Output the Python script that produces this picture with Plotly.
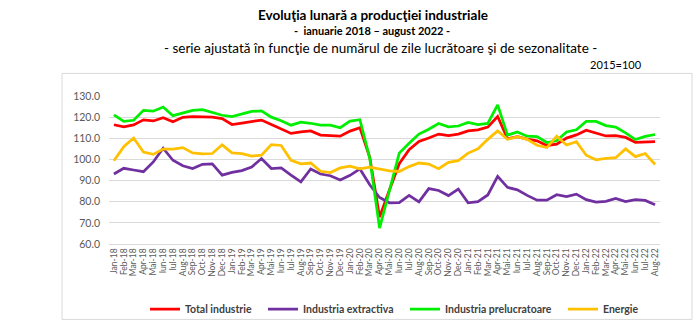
import plotly.graph_objects as go

months = ["Jan-18","Feb-18","Mar-18","Apr-18","Mai-18","Iun-18","Iul-18","Aug-18","Sep-18","Oct-18","Nov-18","Dec-18",
          "Jan-19","Feb-19","Mar-19","Apr-19","Mai-19","Iun-19","Iul-19","Aug-19","Sep-19","Oct-19","Nov-19","Dec-19",
          "Jan-20","Feb-20","Mar-20","Apr-20","Mai-20","Iun-20","Iul-20","Aug-20","Sep-20","Oct-20","Nov-20","Dec-20",
          "Jan-21","Feb-21","Mar-21","Apr-21","Mai-21","Iun-21","Iul-21","Aug-21","Sep-21","Oct-21","Nov-21","Dec-21",
          "Jan-22","Feb-22","Mar-22","Apr-22","Mai-22","Iun-22","Iul-22","Aug-22"]

total_industrie = [116.4,115.4,116.3,118.7,118.2,119.7,117.8,119.9,120.3,120.2,120.0,119.3,
                   116.5,117.2,117.8,118.6,116.5,114.5,112.3,113.0,113.5,111.5,111.4,111.0,
                   113.4,115.0,101.0,72.8,85.5,98.0,104.6,108.5,110.1,112.0,111.3,112.0,
                   113.5,114.0,115.3,120.3,109.8,110.8,109.6,108.8,106.6,107.2,110.1,111.6,
                   113.8,112.3,111.1,111.2,110.4,108.1,108.4,108.4]

industria_extractiva = [93.1,95.8,95.0,94.2,98.8,105.3,99.6,97.0,95.7,97.7,97.9,92.6,
                        93.9,94.7,96.4,100.4,95.7,96.0,92.6,89.4,95.5,93.1,92.3,90.3,
                        92.5,95.5,88.0,82.0,79.5,79.6,83.0,79.9,86.2,85.3,82.9,86.0,
                        79.5,80.0,83.2,92.0,86.8,85.6,83.0,80.7,80.7,83.3,82.4,83.6,
                        81.0,79.8,80.2,81.6,80.1,81.0,80.6,78.6]

industria_prelucratoare = [121.1,118.0,118.5,123.2,122.8,124.8,120.7,121.9,123.2,123.5,122.2,120.9,
                           120.3,121.6,122.7,123.0,120.0,118.3,116.2,117.6,117.1,116.2,116.2,115.0,
                           118.1,118.8,100.6,67.5,85.3,103.0,107.6,112.0,114.3,117.0,115.4,115.8,
                           117.5,116.5,117.0,125.8,111.5,113.0,111.0,110.8,108.0,108.8,113.0,114.0,
                           118.0,118.0,116.0,115.3,112.6,109.4,110.9,111.8]

energie = [99.4,106.0,110.1,103.5,102.4,104.9,104.9,105.6,103.1,102.6,102.8,106.9,
           103.1,102.7,101.6,102.0,107.0,106.6,99.6,97.9,98.3,94.4,93.8,96.0,
           96.8,95.5,96.4,95.5,94.6,94.3,96.6,98.3,97.8,95.6,98.6,99.4,
           103.0,105.0,109.5,113.5,109.5,110.8,109.5,106.7,105.6,111.0,106.8,108.4,
           102.0,99.8,100.5,100.8,105.0,101.3,102.8,97.6]

y_ticks = [60, 70, 80, 90, 100, 110, 120, 130]

series = [
    ("Total industrie", total_industrie, "#FF0000"),
    ("Industria extractiva", industria_extractiva, "#7030A0"),
    ("Industria prelucratoare", industria_prelucratoare, "#00EE00"),
    ("Energie", energie, "#FFC000"),
]
legend_left_px = [145, 263, 405, 563]

FONT = "Lato"
L, R, T, B = 109, 36, 96, 83
PW, PH = 696 - L - R, 336 - T - B

def px_x(p):
    return (p - L) / PW

def px_y(p):
    return (336 - B - p) / PH

fig = go.Figure()
legend_layouts = {}
for k, (name, vals, col) in enumerate(series):
    lg = "legend" if k == 0 else f"legend{k+1}"
    fig.add_trace(go.Scatter(x=months, y=vals, mode="lines", name=name, legend=lg,
                             line=dict(color=col, width=2.75)))
    legend_layouts[lg] = dict(orientation="h", x=px_x(legend_left_px[k]), xanchor="left",
                              y=px_y(322), yanchor="middle", bgcolor="rgba(0,0,0,0)",
                              font=dict(family=FONT, size=10.5, color="#404040", weight="bold"),
                              itemwidth=30)

fig.update_layout(
    width=696, height=336,
    margin=dict(l=L, r=R, t=T, b=B),
    paper_bgcolor="white", plot_bgcolor="white",
    showlegend=True,
    xaxis=dict(type="category", range=[-0.5, len(months) - 0.5],
               tickmode="array", tickvals=months, ticktext=months,
               tickangle=-90, tickfont=dict(family=FONT, size=8.5, color="#595959"),
               showgrid=False, showline=True, linecolor="#d9d9d9", linewidth=1,
               ticks="", fixedrange=True),
    yaxis=dict(range=[60, 130], tickvals=y_ticks, tickformat=".1f",
               tickfont=dict(family=FONT, size=10.5, color="#595959"),
               gridcolor="#d9d9d9", gridwidth=1, zeroline=False, showline=False,
               ticks="", ticklabelstandoff=8),
    shapes=[dict(type="rect", xref="paper", yref="paper",
                 x0=px_x(62), x1=px_x(692), y0=px_y(333), y1=px_y(72),
                 line=dict(color="#d9d9d9", width=1), fillcolor="rgba(0,0,0,0)", layer="below")],
    annotations=[
        dict(text="<b>Evoluţia lunară a producţiei industriale</b>", xref="paper", yref="paper",
             x=px_x(373), y=px_y(10), xanchor="center", yanchor="middle", borderpad=0,
             showarrow=False, font=dict(family=FONT, size=13.5, color="#000000")),
        dict(text="<b>-  ianuarie 2018 – august 2022 -</b>", xref="paper", yref="paper",
             x=px_x(372), y=px_y(27), xanchor="center", yanchor="middle", borderpad=0,
             showarrow=False, font=dict(family=FONT, size=11, color="#000000")),
        dict(text="- serie ajustată în funcţie de numărul de zile lucrătoare şi de sezonalitate -",
             xref="paper", yref="paper",
             x=px_x(380), y=px_y(45), xanchor="center", yanchor="middle", borderpad=0,
             showarrow=False, font=dict(family=FONT, size=13.5, color="#000000")),
        dict(text="2015=100", xref="paper", yref="paper",
             x=px_x(643), y=px_y(63), xanchor="right", yanchor="middle", borderpad=0,
             showarrow=False, font=dict(family=FONT, size=11, color="#000000")),
    ],
    **legend_layouts,
)

fig.write_html("out.html")
